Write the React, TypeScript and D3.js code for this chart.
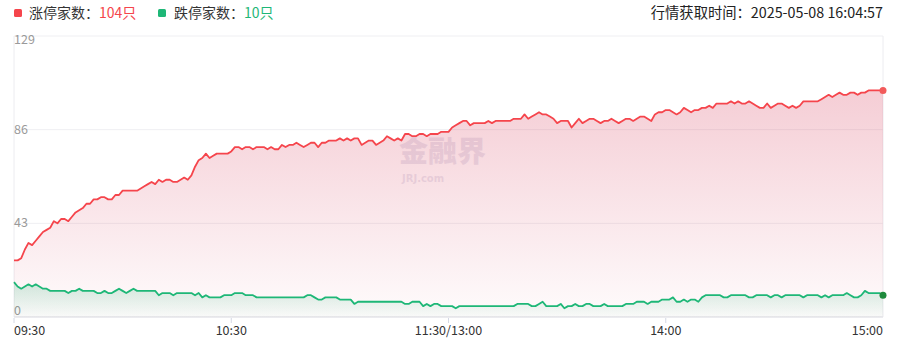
import { useRef, useEffect } from "react";
import * as d3 from "d3";

// minute index 0..240 (09:30-11:30, 13:00-15:00)
const limitUp = [
  26, 26, 27, 31, 34, 33, 35, 37, 39, 40,
  41, 44, 43, 45, 45, 44, 46, 48, 49, 50,
  52, 52, 54, 54, 55, 55, 54, 54, 56, 56,
  58, 58, 58, 58, 58, 59, 60, 61, 62, 61,
  63, 62, 63, 63, 62, 62, 63, 64, 63, 65,
  69, 72, 73, 75, 73, 74, 75, 75, 75, 75,
  76, 78, 78, 77, 78, 78, 77, 78, 78, 78,
  77, 78, 77, 77, 79, 78, 79, 79, 80, 79,
  78, 79, 80, 80, 78, 80, 80, 81, 81, 81,
  82, 81, 82, 81, 82, 82, 79, 80, 81, 81,
  79, 80, 81, 83, 82, 81, 82, 81, 84, 84,
  83, 83, 84, 84, 83, 84, 84, 84, 85, 85,
  85, 87, 88, 89, 90, 90, 88, 89, 89, 89,
  89, 90, 89, 90, 90, 90, 90, 90, 91, 91,
  91, 93, 91, 92, 93, 94, 93, 93, 92, 91,
  89, 90, 90, 90, 87, 89, 91, 89, 90, 91,
  91, 90, 89, 90, 90, 91, 90, 89, 90, 91,
  91, 90, 91, 92, 92, 91, 90, 93, 94, 94,
  95, 95, 94, 93, 94, 96, 95, 94, 95, 95,
  96, 96, 97, 96, 98, 98, 98, 98, 99, 98,
  99, 98, 98, 99, 98, 97, 96, 96, 98, 96,
  97, 98, 98, 97, 96, 97, 96, 97, 99, 99,
  99, 99, 99, 100, 101, 102, 101, 102, 103, 102,
  102, 103, 103, 102, 103, 103, 104, 104, 104, 104,
  104,
];

const limitDown = [
  16, 14, 13, 14, 15, 14, 15, 14, 13, 13,
  12, 12, 12, 12, 12, 11, 12, 12, 13, 12,
  12, 12, 12, 11, 11, 12, 11, 11, 12, 13,
  12, 11, 12, 13, 12, 12, 12, 12, 12, 12,
  10, 11, 11, 11, 10, 11, 11, 11, 11, 11,
  10, 11, 9, 10, 9, 9, 9, 9, 10, 10,
  10, 11, 11, 11, 10, 10, 10, 9, 9, 9,
  9, 9, 9, 9, 9, 9, 9, 9, 9, 9,
  9, 10, 10, 9, 8, 8, 9, 9, 9, 9,
  8, 8, 8, 8, 6, 7, 7, 7, 7, 7,
  7, 7, 7, 7, 7, 7, 7, 7, 6, 6,
  7, 7, 7, 5, 6, 5, 6, 6, 5, 5,
  5, 5, 4, 5, 5, 5, 5, 5, 5, 5,
  5, 5, 5, 5, 5, 5, 5, 5, 5, 6,
  6, 6, 6, 5, 5, 6, 7, 5, 5, 5,
  5, 6, 4, 5, 5, 6, 5, 5, 6, 6,
  5, 5, 5, 6, 5, 5, 5, 5, 5, 6,
  6, 6, 7, 7, 7, 6, 7, 7, 7, 8,
  8, 8, 9, 7, 7, 8, 7, 8, 8, 7,
  9, 10, 10, 10, 10, 10, 9, 9, 10, 10,
  10, 10, 10, 9, 9, 10, 10, 10, 10, 9,
  10, 10, 9, 10, 10, 10, 10, 10, 9, 10,
  10, 10, 10, 9, 10, 9, 10, 10, 10, 10,
  11, 10, 9, 9, 10, 12, 11, 11, 11, 11,
  10,
];

const yTicks = [0, 43, 86, 129];
const xTickIndex = [0, 60, 120, 180, 240];
const xTickLabels = ["09:30", "10:30", "11:30/13:00", "14:00", "15:00"];

const RED = "#f5454c";
const GREEN = "#1eb777";
const FONT = "'Noto Sans CJK SC', 'Noto Sans', sans-serif";

export default function App() {
  const svgRef = useRef<SVGSVGElement>(null);

  useEffect(() => {
    if (!svgRef.current) return;
    const svg = d3.select(svgRef.current);
    svg.selectAll("*").remove();

    const width = 897;
    const height = 354;
    const left = 14;
    const right = 883;
    const top = 36;
    const bottom = 317;

    svg.attr("width", width).attr("height", height).style("font-family", FONT);

    const x = d3.scaleLinear().domain([0, 240]).range([left, right]);
    const y = d3.scaleLinear().domain([0, 129]).range([bottom, top]);

    const defs = svg.append("defs");
    const mkGrad = (id: string, color: string, a0: number, a1: number) => {
      const g = defs
        .append("linearGradient")
        .attr("id", id)
        .attr("x1", 0)
        .attr("y1", 0)
        .attr("x2", 0)
        .attr("y2", 1);
      g.append("stop").attr("offset", 0).attr("stop-color", color).attr("stop-opacity", a0);
      g.append("stop").attr("offset", 1).attr("stop-color", color).attr("stop-opacity", a1);
    };
    mkGrad("redArea", "#d8405e", 0.26, 0.02);
    mkGrad("greenArea", "#1aa86a", 0.2, 0.02);

    // Grid lines
    yTicks.forEach((v) => {
      svg
        .append("line")
        .attr("x1", left)
        .attr("x2", right)
        .attr("y1", y(v))
        .attr("y2", y(v))
        .attr("stroke", v === 0 ? "#e4e4ea" : "#efeff2")
        .attr("stroke-width", v === 0 ? 1.5 : 1);
    });
    svg
      .append("line")
      .attr("x1", left)
      .attr("x2", left)
      .attr("y1", top)
      .attr("y2", bottom)
      .attr("stroke", "#ececf0");
    svg
      .append("line")
      .attr("x1", right)
      .attr("x2", right)
      .attr("y1", top)
      .attr("y2", bottom)
      .attr("stroke", "#ececf0");

    // X ticks + labels
    xTickIndex.forEach((t, i) => {
      if (i < xTickIndex.length - 1) {
        svg
          .append("line")
          .attr("x1", x(t))
          .attr("x2", x(t))
          .attr("y1", bottom + 1)
          .attr("y2", bottom + 6)
          .attr("stroke", "#d4d8e4");
      }
      svg
        .append("text")
        .attr("x", x(t))
        .attr("y", bottom + 18)
        .attr("text-anchor", i === 0 ? "start" : i === xTickIndex.length - 1 ? "end" : "middle")
        .attr("font-size", "12.5px")
        .attr("fill", "#333")
        .text(xTickLabels[i]);
    });

    // Y labels
    yTicks.forEach((v, i) => {
      const off = i === 0 ? -2 : i === yTicks.length - 1 ? 8 : 4;
      svg
        .append("text")
        .attr("x", left)
        .attr("y", y(v) + off)
        .attr("font-size", "12.5px")
        .attr("fill", "#9a9a9a")
        .text(v);
    });

    // Watermark
    const wm = svg.append("g").attr("opacity", 0.18).attr("fill", "#8b7fb0");
    wm.append("text")
      .attr("x", 399)
      .attr("y", 162)
      .attr("font-size", "29px")
      .attr("font-weight", 900)
      .text("金融界");
    wm.append("text")
      .attr("x", 402)
      .attr("y", 182)
      .attr("font-size", "10px")
      .attr("font-weight", 700)
      .attr("font-family", "'DejaVu Sans', sans-serif")
      .text("JRJ.com");

    const idx = d3.range(limitUp.length);

    const area = (data: number[]) =>
      d3
        .area<number>()
        .x((i) => x(i))
        .y0(y(0))
        .y1((i) => y(data[i]));
    const line = (data: number[]) =>
      d3
        .line<number>()
        .x((i) => x(i))
        .y((i) => y(data[i]));

    svg.append("path").attr("d", area(limitUp)(idx)).attr("fill", "url(#redArea)");
    svg.append("path").attr("d", area(limitDown)(idx)).attr("fill", "url(#greenArea)");

    svg
      .append("path")
      .attr("d", line(limitUp)(idx))
      .attr("fill", "none")
      .attr("stroke", RED)
      .attr("stroke-width", 1.8)
      .attr("stroke-linejoin", "round");
    svg
      .append("path")
      .attr("d", line(limitDown)(idx))
      .attr("fill", "none")
      .attr("stroke", GREEN)
      .attr("stroke-width", 1.8)
      .attr("stroke-linejoin", "round");

    const last = limitUp.length - 1;
    svg
      .append("circle")
      .attr("cx", x(last))
      .attr("cy", y(limitUp[last]))
      .attr("r", 3.5)
      .attr("fill", "#f25a5a");
    svg
      .append("circle")
      .attr("cx", x(last))
      .attr("cy", y(limitDown[last]))
      .attr("r", 3.5)
      .attr("fill", "#1f8a3c");

    // Header legend
    const header = svg.append("g").attr("font-size", "14px");
    header
      .append("rect")
      .attr("x", 14)
      .attr("y", 9)
      .attr("width", 8)
      .attr("height", 8)
      .attr("rx", 1.5)
      .attr("fill", RED);
    const t1 = header.append("text").attr("x", 29).attr("y", 18).attr("fill", "#333");
    t1.append("tspan").text("涨停家数：");
    t1.append("tspan").attr("fill", RED).text(`${limitUp[last]}只`);

    header
      .append("rect")
      .attr("x", 158)
      .attr("y", 9)
      .attr("width", 8)
      .attr("height", 8)
      .attr("rx", 1.5)
      .attr("fill", GREEN);
    const t2 = header.append("text").attr("x", 174).attr("y", 18).attr("fill", "#333");
    t2.append("tspan").text("跌停家数：");
    t2.append("tspan").attr("fill", GREEN).text(`${limitDown[last]}只`);

    header
      .append("text")
      .attr("x", right)
      .attr("y", 18)
      .attr("text-anchor", "end")
      .attr("font-size", "14.3px")
      .attr("fill", "#222")
      .text("行情获取时间：2025-05-08 16:04:57");
  }, []);

  return (
    <div style={{ position: "absolute", left: 0, top: 0, background: "#fff" }}>
      <svg ref={svgRef} style={{ display: "block" }} />
    </div>
  );
}
